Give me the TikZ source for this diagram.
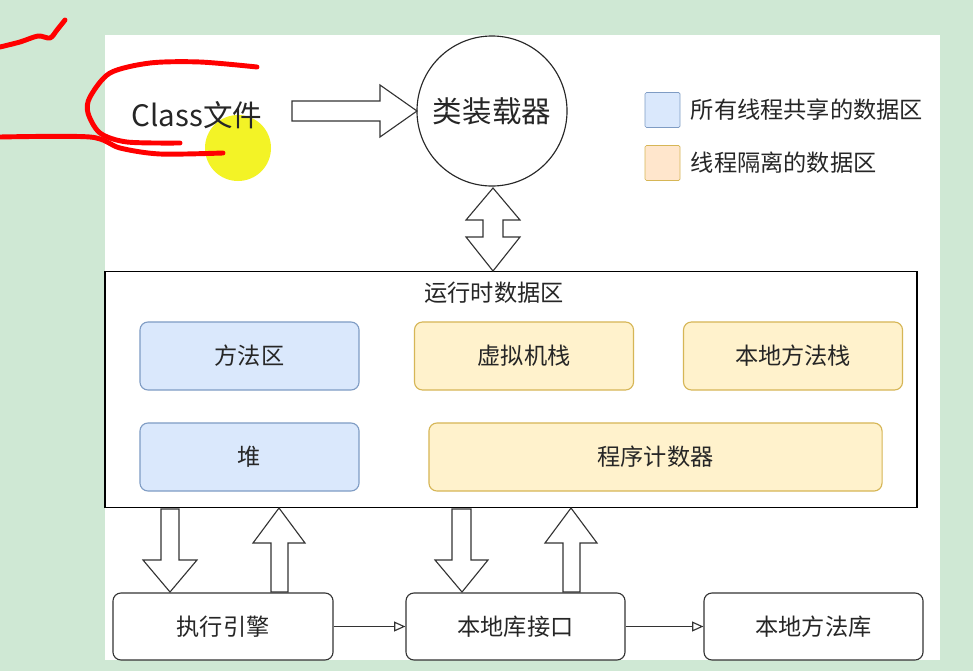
\documentclass[tikz,border=0pt]{standalone}
\usepackage{fontspec}
\setmainfont{Noto Sans CJK SC}
\usetikzlibrary{arrows.meta}
\definecolor{bggreen}{HTML}{CFE8D4}
\definecolor{sharedfill}{HTML}{DAE8FC}
\definecolor{sharedline}{HTML}{7F9CC4}
\definecolor{isofill}{HTML}{FFF2CC}
\definecolor{isoline}{HTML}{D6B656}
\definecolor{legendiso}{HTML}{FFE6CC}
\definecolor{marker}{HTML}{F2F200}
\begin{document}
\begin{tikzpicture}[x=0.025cm,y=-0.025cm,
    box/.style={draw=black!80,line width=0.8pt,rounded corners=0.2cm,
      minimum width=5.475cm,minimum height=1.7cm,text=black!85,
      font=\fontsize{16.5}{18}\selectfont},
    shared/.style={box,fill=sharedfill,draw=sharedline},
    isolated/.style={box,fill=isofill,draw=isoline},
    plain/.style={box,fill=white,minimum height=1.675cm},
    fat/.style={draw=black!80,line width=0.8pt,fill=white,line join=miter},
    scribble/.style={red,line width=3.5pt,line cap=round,line join=round}]
    % Page
    \useasboundingbox (0,0) rectangle (973,671);
    \fill[bggreen] (0,0) rectangle (973,671);
    \fill[white] (105,35) rectangle (940,660);

    % Highlight
    \fill[marker,opacity=0.85] (238,148) circle (33);

    % Top row
    \node[text=black!85,font=\fontsize{21}{24}\selectfont] (cls) at (197,115) {Class文件};
    \node[draw=black!85,line width=0.8pt,circle,minimum size=3.75cm,fill=white,
      text=black!85,font=\fontsize{21}{24}\selectfont] (loader) at (492,111) {类装载器};

    % Legend
    \node[draw=sharedline,fill=sharedfill,minimum size=0.875cm,inner sep=0pt,rounded corners=1pt] (keyshared) at (662.5,110) {};
    \node[draw=isoline,fill=legendiso,minimum size=0.875cm,inner sep=0pt,rounded corners=1pt] (keyiso) at (662.5,163) {};
    \node[anchor=west,text=black!85,font=\fontsize{16.5}{18}\selectfont] (keysharedtext) at (686,110) {所有线程共享的数据区};
    \node[anchor=west,text=black!85,font=\fontsize{16.5}{18}\selectfont] (keyisotext) at (686,163) {线程隔离的数据区};

    % Runtime data area
    \node[draw=black,line width=0.9pt,fill=white,minimum width=20.3cm,minimum height=5.9cm] (rt) at (511,389.5) {};
    \node[text=black!85,font=\fontsize{16.5}{18}\selectfont] (rtlabel) at (494,293) {运行时数据区};
    \node[shared] (method) at (249.5,356) {方法区};
    \node[isolated] (vmstack) at (524,356) {虚拟机栈};
    \node[isolated] (nstack) at (793,356) {本地方法栈};
    \node[shared] (heap) at (249.5,457) {堆};
    \node[isolated,minimum width=11.325cm] (pc) at (655.5,457) {程序计数器};

    % Bottom row
    \node[plain,minimum width=5.5cm] (engine) at (223,626.5) {执行引擎};
    \node[plain] (nif) at (515.5,626.5) {本地库接口};
    \node[plain] (nlib) at (813.5,626.5) {本地方法库};

    % Arrows
    \draw[-{Triangle[open,length=8pt,width=7pt]},black!80,line width=0.8pt] (engine) -- (nif);
    \draw[-{Triangle[open,length=8pt,width=7pt]},black!80,line width=0.8pt] (nif) -- (nlib);

    % Fat arrows
    \draw[fat] (292,101) -- (380,101) -- (380,85) -- (417,111) -- (380,137) -- (380,121) -- (292,121) -- cycle;
    \draw[fat] (493,188) -- (520,220) -- (503,220) -- (503,237) -- (520,237) -- (493,271)
      -- (466,237) -- (483,237) -- (483,220) -- (466,220) -- cycle;
    \draw[fat] (161,509) -- (179,509) -- (179,560) -- (197,560) -- (170,592) -- (143,560) -- (161,560) -- cycle;
    \draw[fat] (279,508) -- (305,543) -- (288,543) -- (288,592) -- (271,592) -- (271,543) -- (253,543) -- cycle;
    \draw[fat] (452,509) -- (471,509) -- (471,560) -- (488,560) -- (462,592) -- (435,560) -- (452,560) -- cycle;
    \draw[fat] (571,508) -- (597,543) -- (580,543) -- (580,592) -- (563,592) -- (563,543) -- (545,543) -- cycle;

    % Pen marks
    \draw[scribble] plot[smooth] coordinates {(0,47) (20,42) (38,36) (50,38) (57,30) (65,20)};
    \draw[scribble] plot[smooth] coordinates {(257,67) (200,62) (150,63) (110,73) (90,97) (88,113) (100,133) (127,142) (180,143)};
    \draw[scribble] plot[smooth] coordinates {(0,137) (90,137) (120,148) (160,154) (223,153)};
  \end{tikzpicture}
\end{document}
